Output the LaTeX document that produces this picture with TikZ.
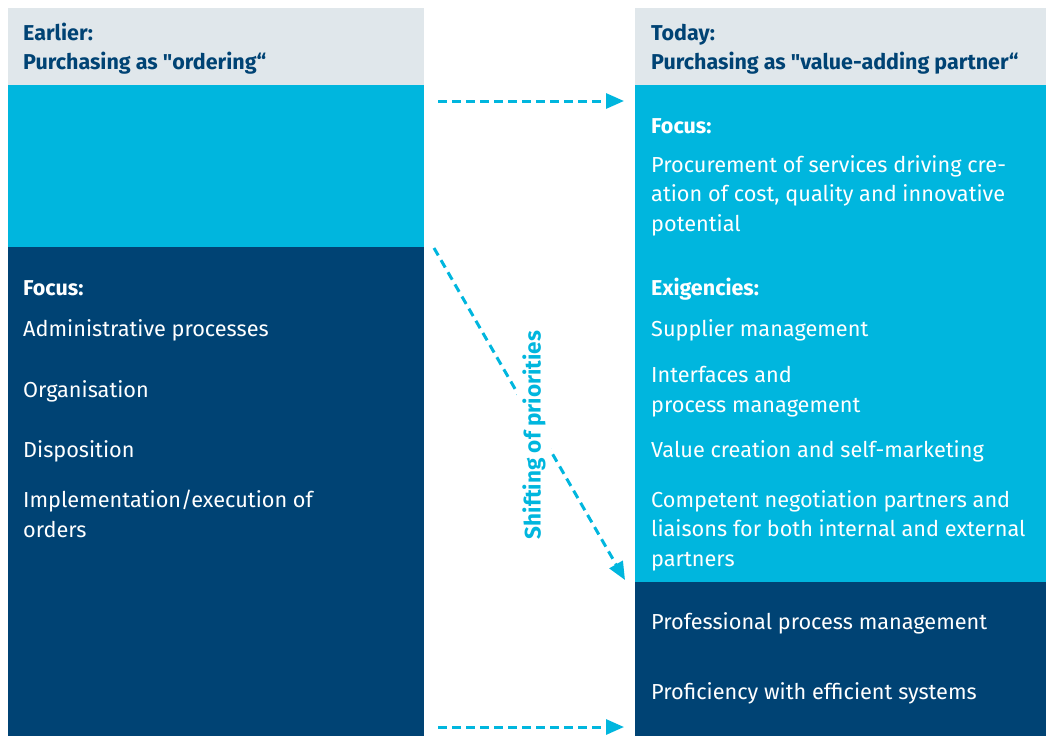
\documentclass[tikz,border=0pt]{standalone}
\usepackage{fontspec}
\setmainfont{Fira Sans}
\usetikzlibrary{arrows.meta}
\definecolor{hdrgray}{HTML}{E0E7EB}
\definecolor{cyanbg}{HTML}{00B6DE}
\definecolor{darkbg}{HTML}{004374}
\tikzset{
  txt/.style={anchor=base west, inner sep=0pt, align=left, font=\fontsize{21.7}{29.5}\selectfont},
  wtxt/.style={txt, text=white},
  htxt/.style={txt, text=darkbg, font=\fontsize{21.5}{29}\selectfont\bfseries},
  bwtxt/.style={txt, text=white, font=\fontsize{21.5}{29.5}\selectfont\bfseries},
  dasharrow/.style={cyanbg, line width=3pt, dash pattern=on 8.5pt off 5.5pt, -{Triangle[length=18pt,width=15pt]}},
}
\begin{document}
\begin{tikzpicture}[x=1pt,y=-1pt]
\useasboundingbox (0,0) rectangle (1046,736);
% left column
\fill[hdrgray] (8,8) rectangle (424,85);
\fill[cyanbg] (8,85) rectangle (424,247);
\fill[darkbg] (8,247) rectangle (424,736);
% right column
\fill[hdrgray] (635,8) rectangle (1046,85);
\fill[cyanbg] (635,85) rectangle (1046,582);
\fill[darkbg] (635,582) rectangle (1046,736);
% left texts (base anchor = baseline of last line)
\node[htxt] (lh) at (23,69) {Earlier:\\Purchasing as \textquotedbl ordering“};
\node[bwtxt] (lf) at (23,295) {Focus:};
\node[wtxt] (l1) at (23,336) {Administrative processes};
\node[wtxt] (l2) at (23,397) {Organisation};
\node[wtxt] (l3) at (23,457) {Disposition};
\node[wtxt] (l4) at (23,537) {Implementation/execution of\\orders};
% right texts
\node[htxt] (rh) at (651,69) {Today:\\Purchasing as \textquotedbl value-adding partner“};
\node[bwtxt] (rf) at (651,133) {Focus:};
\node[wtxt] (r1) at (651,231) {Procurement of services driving cre-\\ation of cost, quality and innovative\\potential};
\node[bwtxt] (re) at (651,295) {Exigencies:};
\node[wtxt] (r2) at (651,336) {Supplier management};
\node[wtxt] (r3) at (651,412) {Interfaces and\\process management};
\node[wtxt] (r4) at (651,457) {Value creation and self-marketing};
\node[wtxt] (r5) at (651,566) {Competent negotiation partners and\\liaisons for both internal and external\\partners};
\node[wtxt] (r6) at (651,629) {Professional process management};
\node[wtxt] (r7) at (651,699) {Proficiency with efficient systems};
% arrows
\coordinate (t1) at (438,101);
\coordinate (t2) at (624,101);
\coordinate (b1) at (438,727);
\coordinate (b2) at (624,727);
\coordinate (d1) at (434,248);
\coordinate (d2) at (625,580);
\draw[dasharrow] (t1) -- (t2);
\draw[dasharrow] (b1) -- (b2);
\draw[dasharrow] (d1) -- (d2);
\node[fill=white, inner sep=5pt, rotate=90, text=cyanbg, font=\fontsize{22.5}{26}\selectfont\bfseries] (sp) at (534,435) {Shifting of priorities};
\end{tikzpicture}
\end{document}
